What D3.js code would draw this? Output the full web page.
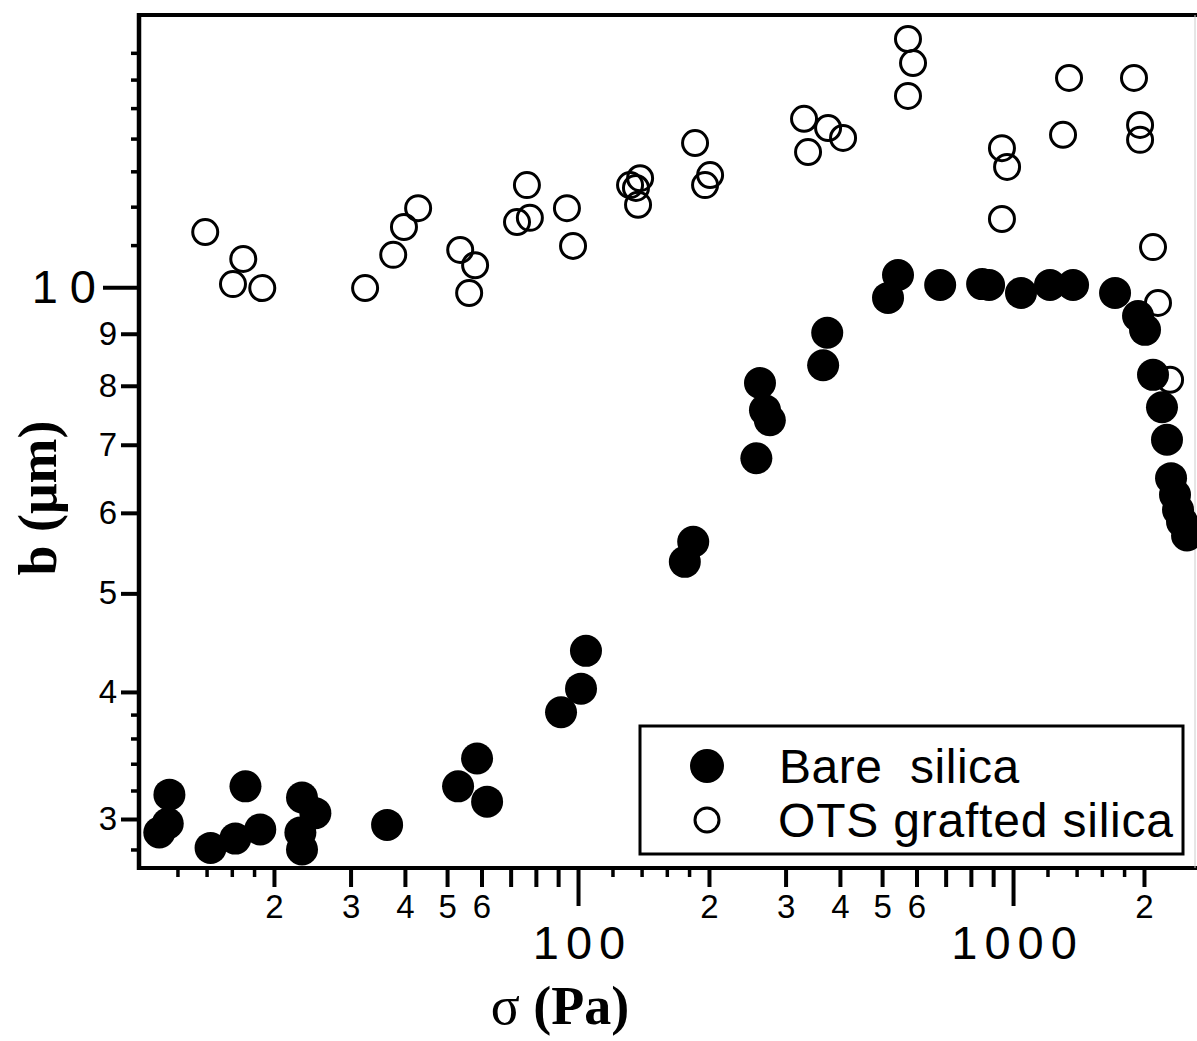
<!DOCTYPE html>
<html><head><meta charset="utf-8">
<script src="https://cdn.jsdelivr.net/npm/d3@7"></script>
<style>
html,body{margin:0;padding:0;background:#fff;}
svg{display:block;}
</style></head>
<body>
<svg id="chart" width="1197" height="1041"></svg>
<script>
// ---- data ----
const bareX = [11.5, 11.4, 10.9, 14.3, 16.3, 18.6, 17.2, 23.2, 24.9, 23.0, 23.2, 36.4, 53.0, 58.6, 61.8, 91.4, 101.6, 104.3, 176, 184, 257, 262, 269, 276, 366, 374, 516, 544, 680, 849, 881, 1043, 1216, 1374, 1716, 1938, 2011, 2098, 2200, 2259, 2308, 2357, 2395, 2446, 2512];
const bareY = [3.17, 2.97, 2.91, 2.81, 2.87, 2.93, 3.23, 3.15, 3.04, 2.91, 2.80, 2.96, 3.23, 3.44, 3.12, 3.82, 4.03, 4.39, 5.37, 5.62, 6.79, 8.05, 7.57, 7.40, 8.38, 9.02, 9.76, 10.28, 10.05, 10.07, 10.05, 9.87, 10.05, 10.05, 9.87, 9.37, 9.08, 8.20, 7.62, 7.08, 6.49, 6.25, 6.04, 5.88, 5.70];
const otsX = [13.9, 17.0, 16.1, 18.8, 32.4, 37.6, 39.8, 42.9, 53.6, 58.0, 56.2, 72.4, 76.3, 77.5, 94.3, 97.4, 131.7, 138.9, 135.9, 137.4, 185.8, 201.2, 195.9, 330.8, 337.9, 375.7, 406.7, 573.5, 589, 573.5, 943, 969, 943, 1345, 1303, 1897, 1959, 1959, 2098, 2154, 2296];
const otsY = [11.33, 10.66, 10.07, 9.98, 9.98, 10.76, 11.46, 11.96, 10.88, 10.51, 9.87, 11.59, 12.60, 11.70, 11.96, 10.98, 12.60, 12.80, 12.52, 12.05, 13.86, 12.89, 12.60, 14.64, 13.58, 14.34, 14.02, 17.54, 16.61, 15.42, 13.70, 13.13, 11.67, 16.06, 14.12, 16.06, 14.44, 13.96, 10.95, 9.65, 8.11];
const seriesNames = ["Bare  silica", "OTS grafted silica"];
const xMajorTicks = [100, 1000];
const xMediumTicks = [20, 30, 40, 50, 60, 70, 80, 90, 200, 300, 400, 500, 600, 700, 800, 900, 2000];
const xMinorTicks = [12, 14, 16, 18, 120, 140, 160, 180, 1200, 1400, 1600, 1800];
const xLabeled = [2, 3, 4, 5, 6];
const yMajorTicks = [10];
const yMediumTicks = [3, 4, 5, 6, 7, 8, 9];
const yMinorTicks = [2.8, 3.2, 3.4, 3.6, 3.8, 11, 12, 13, 14, 15, 16, 17];
const xTitle = "σ", xTitleUnit = "(Pa)";
const yTitle = "b (μm)";

// ---- layout ----
const svg = d3.select("#chart");
const L = 139, R = 1195, T = 15, B = 868;
const x = d3.scaleLog().domain([9.79, 2620]).range([L, R]);
const y = d3.scaleLog().domain([2.685, 18.52]).range([B, T]);
const sans = "'Liberation Sans', Arial, Helvetica, sans-serif";
const serif = "'Liberation Serif', 'Times New Roman', serif";

svg.append("rect").attr("width", 1197).attr("height", 1041).attr("fill", "#fff");

function styleAxis(g, sw) {
  g.select(".domain").remove();
  g.selectAll(".tick line").attr("stroke", "#000").attr("stroke-width", sw);
}

// x axes
const gxMinor = svg.append("g").attr("transform", `translate(0,${B})`)
  .call(d3.axisBottom(x).tickValues(xMinorTicks).tickSize(9).tickFormat(() => ""));
styleAxis(gxMinor, 3.5);
const gxMed = svg.append("g").attr("transform", `translate(0,${B})`)
  .call(d3.axisBottom(x).tickValues(xMediumTicks).tickSize(19).tickPadding(8)
    .tickFormat(d => { const m = Math.round(d / Math.pow(10, Math.floor(Math.log10(d) + 1e-9))); return xLabeled.includes(m) ? String(m) : ""; }));
styleAxis(gxMed, 4);
gxMed.selectAll("text").attr("font-family", sans).attr("font-size", 33).attr("fill", "#000");
const gxMaj = svg.append("g").attr("transform", `translate(0,${B})`)
  .call(d3.axisBottom(x).tickValues(xMajorTicks).tickSize(38).tickPadding(20).tickFormat(d3.format("d")));
styleAxis(gxMaj, 4);
gxMaj.selectAll("text").attr("font-family", sans).attr("font-size", 47).attr("letter-spacing", "7px").attr("dx", "4px").attr("fill", "#000");

// y axes
const gyMinor = svg.append("g").attr("transform", `translate(${L},0)`)
  .call(d3.axisLeft(y).tickValues(yMinorTicks).tickSize(8).tickFormat(() => ""));
styleAxis(gyMinor, 3.5);
const gyMed = svg.append("g").attr("transform", `translate(${L},0)`)
  .call(d3.axisLeft(y).tickValues(yMediumTicks).tickSize(18).tickPadding(4).tickFormat(d3.format("d")));
styleAxis(gyMed, 4);
gyMed.selectAll("text").attr("font-family", sans).attr("font-size", 33).attr("fill", "#000");
const gyMaj = svg.append("g").attr("transform", `translate(${L},0)`)
  .call(d3.axisLeft(y).tickValues(yMajorTicks).tickSize(36).tickPadding(7).tickFormat(d3.format("d")));
styleAxis(gyMaj, 4);
gyMaj.selectAll("text").attr("font-family", sans).attr("font-size", 47).attr("letter-spacing", "12px").attr("dx", "12px").attr("fill", "#000");

// frame
svg.append("line").attr("x1", L).attr("x2", 1197).attr("y1", T).attr("y2", T).attr("stroke", "#000").attr("stroke-width", 4);
svg.append("line").attr("x1", L).attr("x2", L).attr("y1", T - 2).attr("y2", B + 2).attr("stroke", "#000").attr("stroke-width", 4.5);
svg.append("line").attr("x1", L - 2).attr("x2", 1197).attr("y1", B).attr("y2", B).attr("stroke", "#000").attr("stroke-width", 4);
svg.append("line").attr("x1", R).attr("x2", R).attr("y1", T).attr("y2", B).attr("stroke", "#ccc").attr("stroke-width", 1);

// data
const ots = otsX.map((v, i) => [v, otsY[i]]);
const bare = bareX.map((v, i) => [v, bareY[i]]);
svg.append("g").selectAll("circle").data(ots).join("circle")
  .attr("cx", d => x(d[0])).attr("cy", d => y(d[1])).attr("r", 12.5)
  .attr("fill", "none").attr("stroke", "#000").attr("stroke-width", 3);
svg.append("g").selectAll("circle").data(bare).join("circle")
  .attr("cx", d => x(d[0])).attr("cy", d => y(d[1])).attr("r", 16)
  .attr("fill", "#000");

// legend
const lg = svg.append("g");
lg.append("rect").attr("x", 640).attr("y", 726).attr("width", 543).attr("height", 128)
  .attr("fill", "#fff").attr("stroke", "#000").attr("stroke-width", 3);
lg.append("circle").attr("cx", 707).attr("cy", 766).attr("r", 17).attr("fill", "#000");
lg.append("circle").attr("cx", 707).attr("cy", 820).attr("r", 12).attr("fill", "none").attr("stroke", "#000").attr("stroke-width", 3);
lg.append("text").attr("x", 779).attr("y", 783).attr("font-family", sans).attr("font-size", 48)
  .attr("letter-spacing", "0.5px").style("white-space", "pre").text(seriesNames[0]);
lg.append("text").attr("x", 778).attr("y", 837).attr("font-family", sans).attr("font-size", 48)
  .attr("letter-spacing", "0.8px").style("white-space", "pre").text(seriesNames[1]);

// axis titles
const xt = svg.append("text").attr("x", 560).attr("y", 1024).attr("text-anchor", "middle")
  .attr("font-family", serif).attr("font-size", 54).attr("fill", "#000");
xt.append("tspan").text(xTitle + " ");
xt.append("tspan").attr("font-weight", "bold").text(xTitleUnit);
svg.append("text").attr("transform", "translate(56,498) rotate(-90)").attr("text-anchor", "middle")
  .attr("font-family", serif).attr("font-size", 54).attr("font-weight", "bold").attr("fill", "#000").text(yTitle);
</script>
</body></html>
